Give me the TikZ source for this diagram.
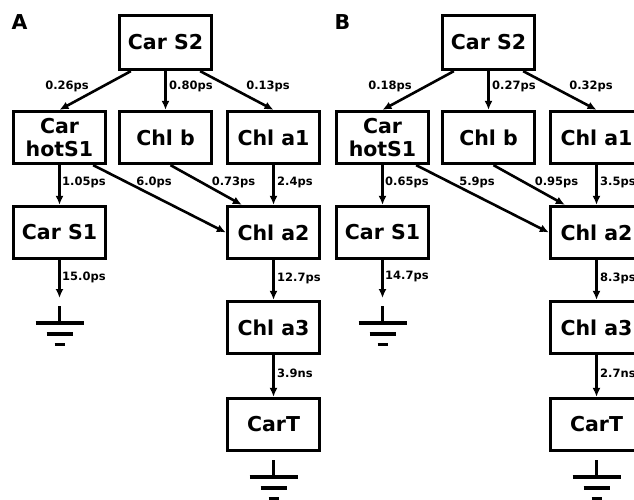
\documentclass[tikz,border=0pt]{standalone}
\usepackage{fontspec}
\setmainfont{DejaVu Sans}
\usetikzlibrary{arrows.meta}
\begin{document}
\begin{tikzpicture}[
            x=1pt, y=-1pt,
            state/.style={rectangle, draw, line width=3.3pt, minimum width=92pt, minimum height=52pt, inner sep=0pt, align=center, font=\fontsize{20.5}{23}\selectfont\bfseries},
            rate/.style={inner sep=0pt, font=\fontsize{11.5}{13}\selectfont\bfseries},
            panel/.style={inner sep=0pt, font=\fontsize{20.5}{23}\selectfont\bfseries},
            flow/.style={line width=2.6pt, -{Latex[length=9pt,width=8pt]}},
            ground/.pic={\draw[line width=3.3pt] (0,0)--(0,17) (-24,17)--(24,17) (-13,28)--(13,28) (-5,38.5)--(5,38.5);}
        ]
            \clip (0,0) rectangle (634,500);
            % panel A
            \node[panel] (pa) at (19.5,22) {A};
            \node[state, minimum height=54pt] (s2) at (165.5,42.5) {Car S2};
            \node[state] (hot) at (59.5,137.5) {Car\\hotS1};
            \node[state] (chlb) at (165.5,137.5) {Chl b};
            \node[state] (a1) at (273.5,137.5) {Chl a1};
            \node[state] (s1) at (59.5,232.5) {Car S1};
            \node[state] (a2) at (273.5,232.5) {Chl a2};
            \node[state] (a3) at (273.5,327.5) {Chl a3};
            \node[state] (cart) at (273.5,424.5) {CarT};
            \coordinate (g1) at (59.5,298);
            \draw[flow] ([xshift=13pt]s2.south west) -- (hot.north);
            \draw[flow] (s2) -- (chlb);
            \draw[flow] ([xshift=-13pt]s2.south east) -- (a1.north);
            \draw[flow] (hot) -- (s1);
            \draw[flow] ([xshift=-14pt]hot.south east) -- (a2.west);
            \draw[flow] ([xshift=5pt]chlb.south) -- ([xshift=16pt]a2.north west);
            \draw[flow] (a1) -- (a2);
            \draw[flow] (s1) -- (g1);
            \draw[flow] (a2) -- (a3);
            \draw[flow] (a3) -- (cart);
            \pic at (59.5,306) {ground};
            \pic at (273.5,460) {ground};
            \node[rate] (r1) at (67,86) {0.26ps};
            \node[rate, anchor=west] (r2) at (169,86) {0.80ps};
            \node[rate] (r3) at (268,86) {0.13ps};
            \node[rate, anchor=west] (r4) at (62,182) {1.05ps};
            \node[rate] (r5) at (154,182) {6.0ps};
            \node[rate] (r6) at (233.5,182) {0.73ps};
            \node[rate, anchor=west] (r7) at (277,182) {2.4ps};
            \node[rate, anchor=west] (r8) at (62,277) {15.0ps};
            \node[rate, anchor=west] (r9) at (277,278) {12.7ps};
            \node[rate, anchor=west] (r10) at (277,373) {3.9ns};
            % panel B
            \begin{scope}[xshift=323pt]
            \node[panel] (pb) at (19.5,22) {B};
            \node[state, minimum height=54pt] (bs2) at (165.5,42.5) {Car S2};
            \node[state] (bhot) at (59.5,137.5) {Car\\hotS1};
            \node[state] (bchlb) at (165.5,137.5) {Chl b};
            \node[state] (ba1) at (273.5,137.5) {Chl a1};
            \node[state] (bs1) at (59.5,232.5) {Car S1};
            \node[state] (ba2) at (273.5,232.5) {Chl a2};
            \node[state] (ba3) at (273.5,327.5) {Chl a3};
            \node[state] (bcart) at (273.5,424.5) {CarT};
            \coordinate (bg1) at (59.5,298);
            \draw[flow] ([xshift=13pt]bs2.south west) -- (bhot.north);
            \draw[flow] (bs2) -- (bchlb);
            \draw[flow] ([xshift=-13pt]bs2.south east) -- (ba1.north);
            \draw[flow] (bhot) -- (bs1);
            \draw[flow] ([xshift=-14pt]bhot.south east) -- (ba2.west);
            \draw[flow] ([xshift=5pt]bchlb.south) -- ([xshift=16pt]ba2.north west);
            \draw[flow] (ba1) -- (ba2);
            \draw[flow] (bs1) -- (bg1);
            \draw[flow] (ba2) -- (ba3);
            \draw[flow] (ba3) -- (bcart);
            \pic at (59.5,306) {ground};
            \pic at (273.5,460) {ground};
            \node[rate] (br1) at (67,86) {0.18ps};
            \node[rate, anchor=west] (br2) at (169,86) {0.27ps};
            \node[rate] (br3) at (268,86) {0.32ps};
            \node[rate, anchor=west] (br4) at (62,182) {0.65ps};
            \node[rate] (br5) at (154,182) {5.9ps};
            \node[rate] (br6) at (233.5,182) {0.95ps};
            \node[rate, anchor=west] (br7) at (277,182) {3.5ps};
            \node[rate, anchor=west] (br8) at (62,277) {14.7ps};
            \node[rate, anchor=west] (br9) at (277,278) {8.3ps};
            \node[rate, anchor=west] (br10) at (277,373) {2.7ns};
            \end{scope}
        \end{tikzpicture}
\end{document}
